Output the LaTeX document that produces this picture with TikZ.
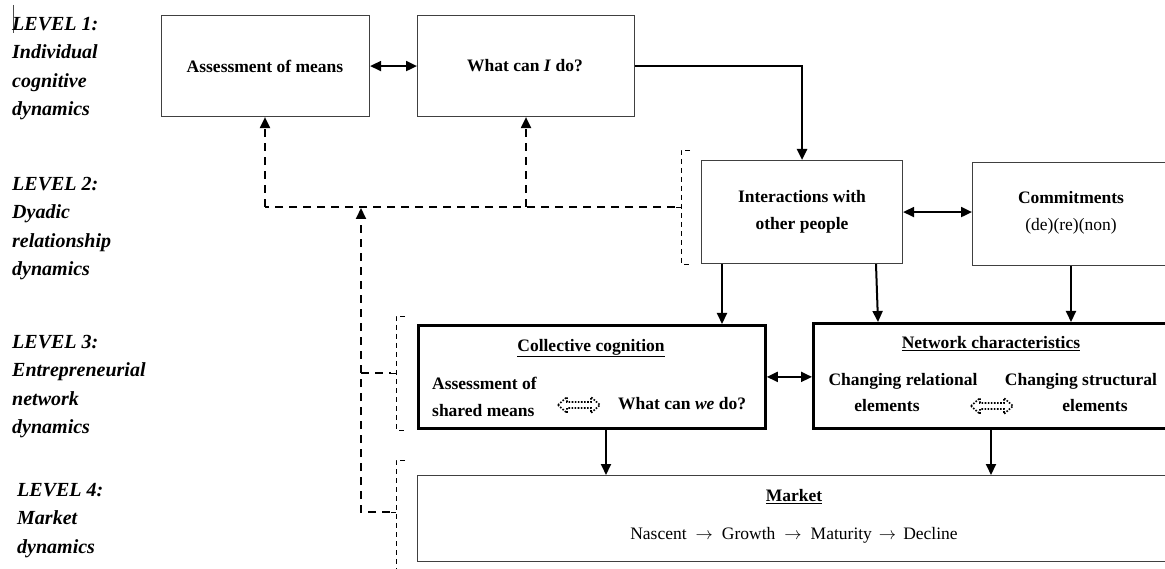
\documentclass[tikz,border=0pt]{standalone}
\usepackage{fontspec}
\setmainfont{Liberation Serif}
\usetikzlibrary{arrows.meta}

\begin{document}
\begin{tikzpicture}[x=1pt,y=-1pt,
  box/.style={draw=black!75,line width=1.1pt,anchor=north west,inner sep=0pt},
  heavybox/.style={draw=black,line width=2.8pt,anchor=north west,inner sep=0pt},
  txt/.style={font=\bfseries\fontsize{17.5}{26.5}\selectfont,align=center,inner sep=0pt},
  plain/.style={font=\fontsize{17.5}{26.5}\selectfont,align=center,inner sep=0pt},
  lvl/.style={font=\bfseries\itshape\fontsize{20}{28.5}\selectfont,align=left,inner sep=0pt,anchor=north west},
  tip/.style={-{Triangle[length=11pt,width=10pt]}},
  arr/.style={line width=2pt,tip},
  biarr/.style={line width=2pt,{Triangle[length=11pt,width=10pt]}-{Triangle[length=11pt,width=10pt]}},
  dashline/.style={line width=2pt,dash pattern=on 8pt off 6pt},
  bracket/.style={line width=0.9pt,dash pattern=on 5pt off 4pt},
  hollowarrow/.pic={\draw[line width=1.6pt,dash pattern=on 1.6pt off 1.5pt]
     (-21,0) -- (-12,-8) -- (-12,-3) -- (12,-3) -- (12,-8) -- (21,0)
     -- (12,8) -- (12,3) -- (-12,3) -- (-12,8) -- cycle;}
]
\useasboundingbox (0,0) rectangle (1165,569);
\clip (0,0) rectangle (1165,569);

% level captions
\draw[line width=0.6pt,black!70] (13,5) -- (13,33);
\node[lvl] (lv1) at (12,17) {LEVEL 1:\\Individual\\cognitive\\dynamics};
\node[lvl] (lv2) at (12,177) {LEVEL 2:\\Dyadic\\relationship\\dynamics};
\node[lvl] (lv3) at (12,335) {LEVEL 3:\\Entrepreneurial\\network\\dynamics};
\node[lvl] (lv4) at (17,483) {LEVEL 4:\\Market\\dynamics};

% level 1 boxes
\node[box,minimum width=208pt,minimum height=101pt] (am) at (161,15) {};
\node[txt] (amt) at (265,66) {Assessment of means};
\node[box,minimum width=217pt,minimum height=101pt] (wc) at (417,15) {};
\node[txt] (wct) at (525,66) {What can \textit{I} do?};

% level 2 boxes
\node[box,minimum width=201pt,minimum height=103pt] (ia) at (701,160) {};
\node[txt] (iat) at (802,212) {Interactions with\\other people};
\node[box,minimum width=260pt,minimum height=103pt] (cm) at (972,162) {};
\node[txt] (cmt) at (1071,213) {Commitments\\\mdseries (de)(re)(non)};

% level 3 boxes
\node[heavybox,minimum width=347pt,minimum height=103pt] (cc) at (417,324) {};
\node[txt] (cct) at (591,348) {\underline{Collective cognition}};
\node[txt,align=left,anchor=west] (ccl) at (432,397) {Assessment of\\shared means};
\node[txt,anchor=west] (ccr) at (618,404) {What can \textit{we} do?};
\pic at (579,405) {hollowarrow};

\node[heavybox,minimum width=400pt,minimum height=105pt] (nc) at (812,322) {};
\node[txt] (nct) at (991,344) {\underline{Network characteristics}};
\node[txt] (ncl1) at (903,381) {Changing relational};
\node[txt] (ncl2) at (887,406) {elements};
\node[txt] (ncr1) at (1081,381) {Changing structural};
\node[txt] (ncr2) at (1095,406) {elements};
\pic at (992,406) {hollowarrow};

% level 4 box
\node[box,minimum width=800pt,minimum height=86pt] (mk) at (417,475) {};
\node[txt] (mkt) at (794,497) {\underline{Market}};
\node[plain] (mkl) at (794,535) {Nascent\hspace{9pt}$\rightarrow$\hspace{9pt}Growth\hspace{9pt}$\rightarrow$\hspace{9pt}Maturity\hspace{7pt}$\rightarrow$\hspace{7pt}Decline};

% solid connectors
\draw[biarr] (am.east) -- (wc.west);
\draw[arr,line width=2.4pt] (wc.east) -| (ia.north);
\draw[biarr] (ia.east) -- (ia.east -| cm.west);
\draw[arr] ([xshift=21pt]ia.south west) -- ([xshift=21pt]ia.south west |- cc.north);
\draw[arr] ([xshift=175pt]ia.south west) -- ([xshift=66pt]nc.north west);
\draw[arr] ([xshift=99pt]cm.south west) -- ([xshift=99pt]cm.south west |- nc.north);
\draw[biarr] (cc.east) -- (cc.east -| nc.west);
\draw[arr] ([xshift=189pt]cc.south west) -- ([xshift=189pt]cc.south west |- mk.north);
\draw[arr] ([xshift=179pt]nc.south west) -- ([xshift=179pt]nc.south west |- mk.north);

% dashed brackets grouping each level
\coordinate (br1) at (675,207);
\coordinate (br2) at (391,373);
\coordinate (br3) at (390,512);
\draw[bracket] (690,150) -- (681,150) -- (681,264) -- (690,264);
\draw[bracket] (681,207) -- (br1);
\draw[bracket] (405,316) -- (396,316) -- (396,430) -- (405,430);
\draw[bracket] (396,373) -- (br2);
\draw[bracket] (405,460) -- (396,460) -- (396,575);
\draw[bracket] (396,512) -- (br3);

% dashed feedback connectors
\coordinate (fbL) at (265,207);
\coordinate (fbM) at (526,207);
\coordinate (fbA) at (361,207);
\coordinate (fbB) at (361,512);
\draw[dashline] (br1) -- (fbL);
\draw[dashline,tip] (fbL) -- (fbL |- am.south);
\draw[dashline,tip] (fbM) -- (fbM |- wc.south);
\draw[dashline,tip] (br3) -- (fbB) -- ([yshift=-1pt]fbA);
\draw[dashline] (fbA |- br2) -- (br2);
\end{tikzpicture}
\end{document}
